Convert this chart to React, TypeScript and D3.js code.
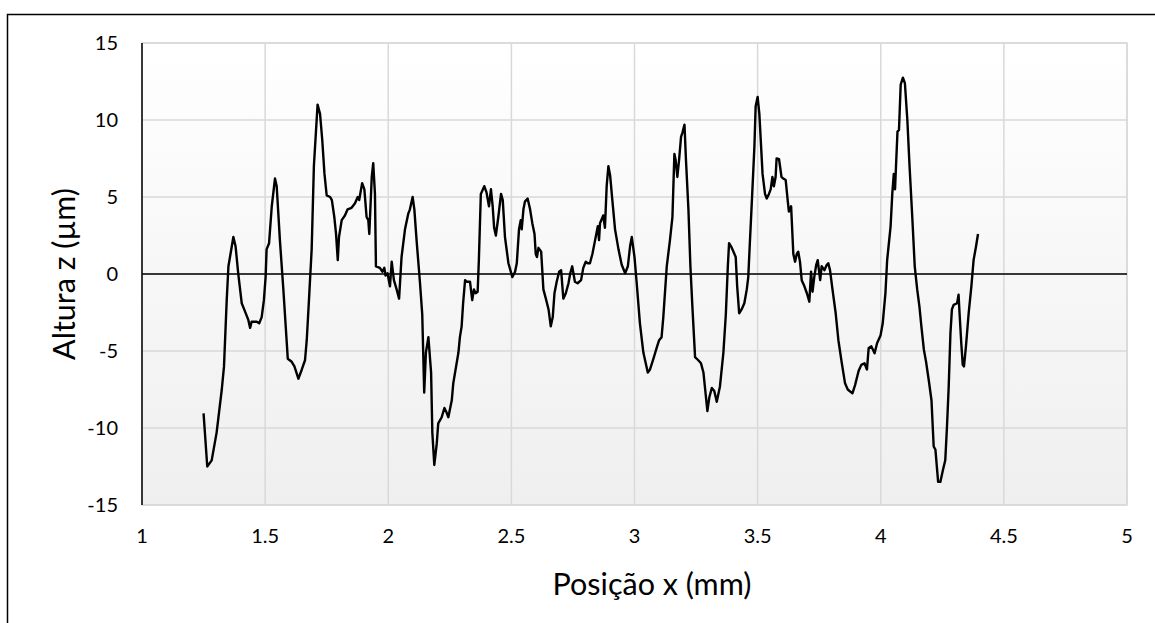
import React from "react";
import * as d3 from "d3";

const posX: number[] = [
  1.250,1.265,1.283,1.303,1.324,1.333,1.344,1.351,1.371,1.380,1.391,1.405,1.415,1.425,1.432,1.439,1.445,1.466,1.476,1.486,
  1.495,1.502,1.506,1.516,1.527,1.540,1.547,1.560,1.574,1.592,1.608,1.619,1.635,1.649,1.662,1.669,1.678,1.689,1.698,1.713,
  1.723,1.732,1.741,1.750,1.764,1.771,1.781,1.788,1.795,1.800,1.811,1.824,1.835,1.851,1.865,1.876,1.882,1.894,1.903,1.912,
  1.919,1.923,1.933,1.939,1.946,1.950,1.966,1.976,1.984,1.989,1.997,2.007,2.014,2.023,2.034,2.044,2.054,2.068,2.081,2.088,
  2.099,2.106,2.115,2.129,2.138,2.146,2.153,2.163,2.174,2.179,2.187,2.197,2.203,2.217,2.228,2.237,2.244,2.258,2.264,2.285,
  2.291,2.298,2.304,2.312,2.318,2.332,2.341,2.348,2.355,2.363,2.368,2.376,2.390,2.399,2.409,2.417,2.424,2.430,2.437,2.447,
  2.458,2.465,2.474,2.488,2.504,2.515,2.522,2.531,2.538,2.542,2.549,2.555,2.566,2.576,2.585,2.594,2.599,2.604,2.610,2.621,
  2.630,2.640,2.651,2.660,2.668,2.675,2.684,2.694,2.702,2.711,2.721,2.732,2.739,2.747,2.758,2.769,2.783,2.792,2.802,2.810,
  2.819,2.829,2.840,2.851,2.856,2.860,2.873,2.880,2.887,2.894,2.901,2.910,2.921,2.935,2.948,2.962,2.973,2.982,2.989,3.000,
  3.009,3.022,3.036,3.054,3.063,3.077,3.090,3.100,3.110,3.117,3.131,3.144,3.154,3.162,3.167,3.174,3.181,3.189,3.195,3.203,
  3.209,3.219,3.227,3.235,3.246,3.259,3.270,3.280,3.287,3.296,3.304,3.314,3.324,3.334,3.347,3.361,3.371,3.379,3.384,3.392,
  3.402,3.411,3.417,3.425,3.435,3.446,3.456,3.462,3.469,3.478,3.487,3.492,3.500,3.507,3.514,3.520,3.530,3.537,3.546,3.553,
  3.560,3.566,3.573,3.577,3.587,3.597,3.604,3.614,3.622,3.627,3.636,3.645,3.652,3.659,3.665,3.672,3.679,3.690,3.700,3.710,
  3.717,3.723,3.730,3.738,3.744,3.754,3.760,3.771,3.781,3.787,3.794,3.804,3.817,3.828,3.842,3.855,3.866,3.885,3.896,3.910,
  3.921,3.934,3.944,3.951,3.962,3.975,3.985,3.999,4.008,4.019,4.026,4.040,4.047,4.053,4.058,4.063,4.068,4.074,4.081,4.090,
  4.098,4.108,4.117,4.128,4.138,4.148,4.157,4.165,4.175,4.184,4.195,4.206,4.215,4.222,4.233,4.242,4.253,4.262,4.269,4.276,
  4.283,4.289,4.296,4.310,4.316,4.320,4.327,4.333,4.338,4.346,4.357,4.368,4.377,4.387,4.395
];

const alturaZ: number[] = [
  -9.05,-12.5,-12.1,-10.3,-7.5,-6.0,-1.7,0.5,2.4,1.8,0.0,-1.9,-2.3,-2.7,-3.0,-3.5,-3.1,-3.1,-3.2,-2.8,
  -1.7,-0.2,1.6,2.0,4.4,6.2,5.7,2.2,-1.0,-5.5,-5.7,-6.0,-6.8,-6.2,-5.6,-4.3,-1.7,1.6,7.0,11.0,
  10.4,8.7,6.5,5.1,5.0,4.8,3.7,2.6,0.9,2.4,3.5,3.8,4.2,4.3,4.6,5.0,4.8,5.9,5.5,3.7,
  3.5,2.6,6.3,7.2,5.2,0.5,0.4,0.15,0.4,-0.1,0.05,-0.8,0.8,-0.4,-1.0,-1.6,1.1,2.9,3.9,4.2,
  5.0,4.2,2.2,-0.6,-2.6,-7.7,-5.1,-4.1,-6.4,-10.3,-12.4,-11.0,-9.7,-9.3,-8.7,-9.0,-9.3,-8.2,-7.1,-5.1,
  -4.1,-3.4,-1.9,-0.4,-0.5,-0.5,-1.7,-1.0,-1.25,-1.15,0.9,5.2,5.7,5.3,4.4,5.5,4.4,3.0,2.5,3.7,
  5.2,4.8,2.4,0.7,-0.2,0.15,0.7,2.9,3.5,2.9,4.2,4.7,4.9,4.2,3.3,2.6,1.3,1.1,1.7,1.45,
  -1.0,-1.6,-2.3,-3.4,-2.8,-1.25,-0.5,0.15,0.25,-1.6,-1.25,-0.6,0.05,0.5,-0.5,-0.6,-0.4,0.4,0.8,0.7,
  0.7,1.3,2.2,3.1,2.2,3.3,3.8,3.0,5.7,7.0,6.4,4.8,2.9,1.6,0.6,0.05,0.5,1.8,2.4,1.1,
  -0.6,-3.2,-5.1,-6.4,-6.2,-5.5,-4.8,-4.3,-4.1,-2.8,0.5,2.2,3.7,7.8,7.4,6.3,7.4,8.9,9.2,9.7,
  7.4,4.2,0.5,-2.1,-5.4,-5.6,-5.8,-6.4,-7.5,-8.9,-8.0,-7.4,-7.6,-8.3,-7.3,-5.1,-2.6,0.5,2.0,1.8,
  1.45,1.1,-0.8,-2.55,-2.3,-1.9,-1.0,-0.2,2.2,5.2,8.3,10.9,11.5,10.4,8.3,6.5,5.2,4.9,5.2,5.5,
  6.3,5.7,6.3,7.5,7.45,6.3,6.2,6.1,4.8,4.05,4.4,1.3,0.8,1.3,1.45,0.8,-0.4,-0.8,-1.25,-1.8,
  0.15,-1.15,-0.2,0.6,0.9,-0.4,0.5,0.25,0.6,0.7,0.25,-1.0,-2.55,-4.3,-5.8,-7.1,-7.5,-7.75,-7.2,-6.3,
  -5.9,-5.8,-6.2,-4.8,-4.7,-5.15,-4.5,-4.0,-3.2,-1.25,0.9,3.1,5.25,6.5,5.5,7.4,9.25,9.35,12.3,12.75,
  12.4,10.0,7.0,3.7,0.5,-1.0,-2.1,-3.4,-4.9,-5.7,-6.9,-8.2,-11.2,-11.4,-13.5,-13.5,-12.7,-12.1,-9.9,-7.3,
  -3.85,-2.3,-2.0,-1.9,-1.35,-2.55,-4.5,-5.9,-6.0,-4.7,-2.55,-0.8,0.9,1.8,2.6
];

const xTicks: number[] = [1, 1.5, 2, 2.5, 3, 3.5, 4, 4.5, 5];
const yTicks: number[] = [15, 10, 5, 0, -5, -10, -15];
const xTitle = "Posição x (mm)";
const yTitle = "Altura z (µm)";

export default function App() {
  const W = 1155, H = 623;
  const left = 142, right = 1127, top = 43, bottom = 505;
  const x = d3.scaleLinear().domain([1, 5]).range([left, right]);
  const y = d3.scaleLinear().domain([-15, 15]).range([bottom, top]);
  const pts: [number, number][] = posX.map((v, i) => [v, alturaZ[i]]);
  const line = d3.line<[number, number]>().x(d => x(d[0])).y(d => y(d[1]));
  const font = "Lato, 'Open Sans', sans-serif";

  return (
    <svg width={W} height={H} style={{ position: "absolute", left: 0, top: 0, background: "#fff" }}>
      <defs>
        <linearGradient id="bg" x1="0" y1="0" x2="0" y2="1">
          <stop offset="0%" stopColor="#ffffff" />
          <stop offset="100%" stopColor="#efefef" />
        </linearGradient>
      </defs>
      <rect x={7.5} y={14.5} width={1300} height={800} fill="#fff" stroke="#000" strokeWidth={1.5} />
      <rect x={left} y={top} width={right - left} height={bottom - top} fill="url(#bg)" stroke="#d9d9d9" strokeWidth={1.5} />
      {xTicks.map(t => (
        <line key={"gx" + t} x1={x(t)} x2={x(t)} y1={top} y2={bottom} stroke="#d9d9d9" strokeWidth={1.5} />
      ))}
      {yTicks.map(t => (
        <line key={"gy" + t} x1={left} x2={right} y1={y(t)} y2={y(t)} stroke="#d9d9d9" strokeWidth={1.5} />
      ))}
      <line x1={left} x2={right} y1={y(0)} y2={y(0)} stroke="#000" strokeWidth={1.5} />
      <line x1={left} x2={left} y1={top} y2={bottom} stroke="#000" strokeWidth={1.5} />
      <path d={line(pts) || ""} fill="none" stroke="#000" strokeWidth={2.4} strokeLinejoin="round" />
      {yTicks.map(t => (
        <text key={"ty" + t} x={118} y={y(t) + 7} textAnchor="end" fontFamily={font} fontSize={20} fill="#000">
          {t}
        </text>
      ))}
      {xTicks.map(t => (
        <text key={"tx" + t} x={x(t)} y={543} textAnchor="middle" fontFamily={font} fontSize={20} fill="#000">
          {t}
        </text>
      ))}
      <text x={652} y={595} textAnchor="middle" fontFamily={font} fontSize={30.5} fill="#000">
        {xTitle}
      </text>
      <text transform={`translate(75,${y(0)}) rotate(-90)`} textAnchor="middle" fontFamily={font} fontSize={30.5} fill="#000">
        {yTitle}
      </text>
    </svg>
  );
}
